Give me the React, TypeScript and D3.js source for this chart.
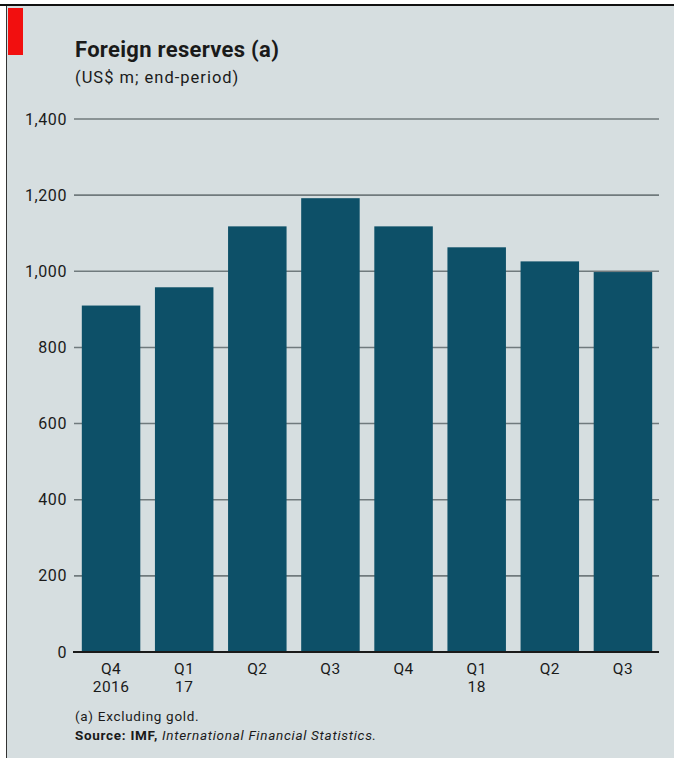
import React from "react";
import * as d3 from "d3";

const categories = ["Q4|2016", "Q1|17", "Q2", "Q3", "Q4", "Q1|18", "Q2", "Q3"];
const values = [910, 958, 1118, 1192, 1118, 1063, 1026, 998];
const yTicks = [0, 200, 400, 600, 800, 1000, 1200, 1400];

const W = 674;
const H = 758;
const FONT = "'Roboto', 'DejaVu Sans', sans-serif";

export default function App() {
  const y = d3.scaleLinear().domain([0, 1400]).range([652, 119]);
  const x = d3
    .scaleBand<number>()
    .domain(d3.range(categories.length))
    .range([74.5, 659.5])
    .paddingInner(0.2)
    .paddingOuter(0.1);

  return (
    <svg
      width={W}
      height={H}
      style={{ position: "absolute", left: 0, top: 0, fontFamily: FONT }}
    >
      <rect x={0} y={0} width={W} height={H} fill="#ffffff" />
      <rect x={7} y={6} width={W - 7} height={H - 6} fill="#d6dee0" />
      <line x1={6.5} y1={6} x2={6.5} y2={H} stroke="#333" strokeWidth={1} />
      <line x1={0} y1={5} x2={W} y2={5} stroke="#111" strokeWidth={2} />
      <rect x={8} y={8} width={15} height={47} fill="#f20f0f" />
      <text x={75} y={57} fontSize={22} fontWeight="bold" fill="#1a1a1a" letterSpacing={0.3}>
        Foreign reserves (a)
      </text>
      <text x={75} y={83} fontSize={16.5} fill="#1a1a1a" letterSpacing={1}>
        (US$ m; end-period)
      </text>

      {yTicks.map((t) => (
        <g key={t}>
          {t > 0 && (
            <line
              x1={74}
              x2={659}
              y1={y(t)}
              y2={y(t)}
              stroke="#707a7d"
              strokeWidth={1.6}
            />
          )}
          <text
            x={67}
            y={y(t)}
            dy="0.35em"
            textAnchor="end"
            fontSize={16}
            letterSpacing={0.6}
            fill="#1a1a1a"
          >
            {d3.format(",")(t)}
          </text>
        </g>
      ))}

      {values.map((v, i) => (
        <rect
          key={i}
          x={x(i)}
          y={y(v)}
          width={x.bandwidth()}
          height={y(0) - y(v)}
          fill="#0d5068"
        />
      ))}
      <line x1={73} x2={659} y1={y(0)} y2={y(0)} stroke="#1a1a1a" strokeWidth={2} />

      {categories.map((c, i) => {
        const parts = c.split("|");
        const cx = (x(i) as number) + x.bandwidth() / 2;
        return (
          <text key={i} x={cx} textAnchor="middle" fontSize={15.5} fill="#1a1a1a" letterSpacing={0.4}>
            {parts.map((p, j) => (
              <tspan key={j} x={cx} y={674 + j * 18}>
                {p}
              </tspan>
            ))}
          </text>
        );
      })}

      <text x={75} y={721} fontSize={13.5} fill="#1a1a1a" letterSpacing={0.7}>
        (a) Excluding gold.
      </text>
      <text x={75} y={740} fontSize={13.5} fill="#1a1a1a" letterSpacing={0.7}>
        <tspan fontWeight="bold">Source: IMF, </tspan>
        <tspan fontStyle="italic">International Financial Statistics.</tspan>
      </text>
    </svg>
  );
}
